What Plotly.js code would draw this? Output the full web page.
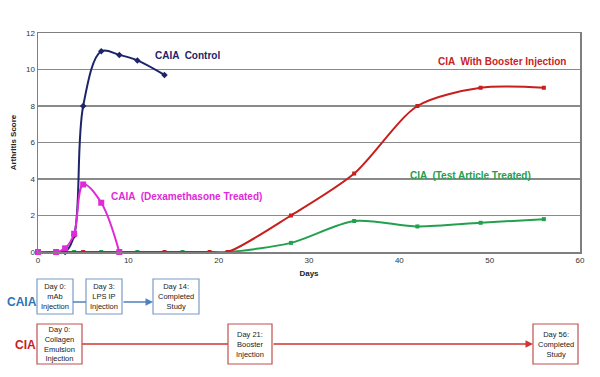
<!DOCTYPE html>
<html>
<head>
<meta charset="utf-8">
<script src="https://cdn.plot.ly/plotly-3.0.1.min.js"></script>
<style>html,body{margin:0;padding:0;background:#fff;}#chart{width:600px;height:377px;}</style>
</head>
<body>
<div id="chart"></div>
<script>
// ---- data ----
const caiaControlDays   = [0, 2, 3, 4, 5, 7, 9, 11, 14];
const caiaControlScores = [0, 0, 0, 0.9, 8, 11, 10.8, 10.5, 9.7];

const caiaDexDays   = [0, 2, 3, 4, 5, 7, 9];
const caiaDexScores = [0, 0, 0.2, 1, 3.7, 2.7, 0];

const ciaBoosterDays   = [0, 3, 5, 9, 14, 19, 21, 28, 35, 42, 49, 56];
const ciaBoosterScores = [0, 0, 0, 0, 0, 0, 0, 2, 4.3, 8, 9, 9];

const ciaTestDays   = [0, 4, 7, 11, 16, 21, 28, 35, 42, 49, 56];
const ciaTestScores = [0, 0, 0, 0, 0, 0, 0.5, 1.7, 1.4, 1.6, 1.8];

const seriesLabels = ["CAIA  Control", "CAIA  (Dexamethasone Treated)", "CIA  With Booster Injection", "CIA  (Test Article Treated)"];
const caiaSteps = ["Day 0:<br>mAb<br>Injection", "Day 3:<br>LPS IP<br>Injection", "Day 14:<br>Completed<br>Study"];
const ciaSteps  = ["Day 0:<br>Collagen<br>Emulsion<br>Injection", "Day 21:<br>Booster<br>Injection", "Day 56:<br>Completed<br>Study"];

// ---- layout helpers (pixel -> paper) ----
const L = 38, R = 580, T = 33, B = 252;
const px = x => (x - L) / (R - L);
const py = y => (B - y) / (B - T);

const navy = '#1d2468', magenta = '#e02ad8', red = '#c81e1e', green = '#23a04e';

const traces = [
  {x: ciaTestDays, y: ciaTestScores, mode: 'lines+markers', cliponaxis: false, line: {color: green, width: 2, shape: 'spline', smoothing: 0.8}, marker: {symbol: 'square', size: 4, color: green}},
  {x: ciaBoosterDays, y: ciaBoosterScores, mode: 'lines+markers', cliponaxis: false, line: {color: red, width: 2, shape: 'spline', smoothing: 0.8}, marker: {symbol: 'square', size: 4, color: red}},
  {x: caiaControlDays, y: caiaControlScores, mode: 'lines+markers', cliponaxis: false, line: {color: navy, width: 2, shape: 'spline', smoothing: 1}, marker: {symbol: 'diamond', size: 5, color: navy}},
  {x: caiaDexDays, y: caiaDexScores, mode: 'lines+markers', cliponaxis: false, line: {color: magenta, width: 2, shape: 'spline', smoothing: 1}, marker: {symbol: 'square', size: 6, color: magenta}}
];

const boxFont = {family: 'Liberation Sans, Arial, sans-serif', size: 7.5, color: '#222'};
const shapes = [];
const annotations = [];
const ann = (o) => annotations.push(Object.assign({xref: 'paper', yref: 'paper', xanchor: 'center', yanchor: 'middle', showarrow: false}, o));

// series labels
const lbl = [
  [seriesLabels[0], 187, 55, navy],
  [seriesLabels[1], 186, 196, magenta],
  [seriesLabels[2], 502, 61, red],
  [seriesLabels[3], 470, 175, green]
];
lbl.forEach(([t, x, y, c]) => ann({text: '<b>' + t + '</b>', x: px(x), y: py(y), font: {family: 'Liberation Sans, Arial, sans-serif', size: 10, color: c}}));

// CAIA row
const caiaBoxes = [[37, 73], [86, 122], [153, 199]];
const caiaTop = 279, caiaBot = 314;
caiaBoxes.forEach(([x0, x1], i) => {
  shapes.push({type: 'rect', xref: 'paper', yref: 'paper', x0: px(x0), x1: px(x1), y0: py(caiaBot), y1: py(caiaTop), line: {color: '#7b9bc8', width: 1.2}, fillcolor: '#fff'});
  ann({text: caiaSteps[i], x: px((x0 + x1) / 2), y: py((caiaTop + caiaBot) / 2), font: boxFont});
});
shapes.push({type: 'line', xref: 'paper', yref: 'paper', x0: px(73), x1: px(86), y0: py(302), y1: py(302), line: {color: '#4f81bd', width: 1.5}});
annotations.push({text: '', xref: 'paper', yref: 'paper', x: px(153), y: py(302), ax: -31, ay: 0, showarrow: true, arrowhead: 2, arrowsize: 1, arrowwidth: 1.5, arrowcolor: '#4f81bd'});
ann({text: '<b>CAIA</b>', x: px(21.5), y: py(302), font: {family: 'Liberation Sans, Arial, sans-serif', size: 12, color: '#2e75b6'}});

// CIA row
const ciaBoxes = [[37, 82], [228, 272], [533, 578]];
const ciaTop = 324, ciaBot = 364;
shapes.push({type: 'line', xref: 'paper', yref: 'paper', x0: px(82), x1: px(228), y0: py(344), y1: py(344), line: {color: '#d03535', width: 1.5}});
annotations.push({text: '', xref: 'paper', yref: 'paper', x: px(533), y: py(344), ax: -261, ay: 0, showarrow: true, arrowhead: 2, arrowsize: 1, arrowwidth: 1.5, arrowcolor: '#d03535'});
ciaBoxes.forEach(([x0, x1], i) => {
  shapes.push({type: 'rect', xref: 'paper', yref: 'paper', x0: px(x0), x1: px(x1), y0: py(ciaBot), y1: py(ciaTop), line: {color: '#c0504d', width: 1.2}, fillcolor: '#fff'});
  ann({text: ciaSteps[i], x: px((x0 + x1) / 2), y: py((ciaTop + ciaBot) / 2), font: boxFont});
});
ann({text: '<b>CIA</b>', x: px(25), y: py(345), font: {family: 'Liberation Sans, Arial, sans-serif', size: 12, color: '#c81e1e'}});

const layout = {
  width: 600, height: 377,
  margin: {l: L, r: 600 - R, t: T, b: 377 - B},
  paper_bgcolor: '#fff', plot_bgcolor: '#fff',
  showlegend: false,
  font: {family: 'Liberation Sans, Arial, sans-serif', size: 8, color: '#333'},
  xaxis: {range: [0, 60], dtick: 10, showgrid: false, zeroline: false, showline: true, mirror: true, linecolor: '#7f7f7f', linewidth: 1.5, ticks: '', tickfont: {size: 8, color: '#333'},
          title: {text: '<b>Days</b>', font: {size: 8, color: '#222'}, standoff: 6}},
  yaxis: {range: [0, 12], dtick: 2, showgrid: true, gridcolor: '#8a8a8a', gridwidth: 1.3, zeroline: false, showline: true, mirror: true, linecolor: '#7f7f7f', linewidth: 1.5, ticks: '', tickfont: {size: 8, color: '#333'},
          title: {text: '<b>Arthritis Score</b>', font: {size: 8, color: '#222'}, standoff: 8}},
  shapes: shapes,
  annotations: annotations
};

Plotly.newPlot('chart', traces, layout, {displayModeBar: false, staticPlot: true});
</script>
</body>
</html>
